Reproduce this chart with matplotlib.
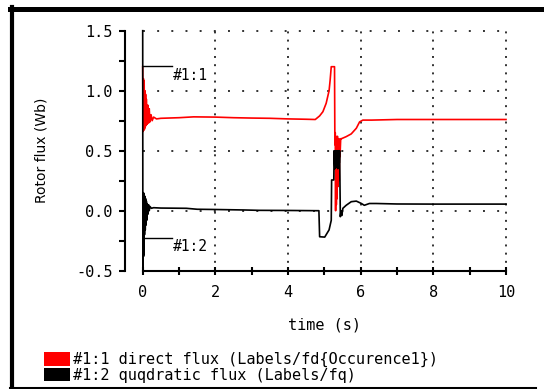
import matplotlib
matplotlib.use("Agg")
import matplotlib.pyplot as plt
from matplotlib.lines import Line2D
from matplotlib.patches import Patch
from matplotlib.ticker import MultipleLocator

# ---------------- data ----------------
t_direct = [0.00, 0.01, 0.02, 0.03, 0.04, 0.05, 0.06, 0.07, 0.08, 0.09,
            0.10, 0.12, 0.14, 0.16, 0.18, 0.20, 0.23, 0.26, 0.30, 0.38,
            0.50, 1.00, 1.40, 2.00, 2.50, 3.00, 3.50, 4.00, 4.50, 4.75,
            4.87, 4.96, 5.05, 5.13, 5.16, 5.19, 5.28, 5.29, 5.30, 5.31,
            5.32, 5.33, 5.34, 5.35, 5.36, 5.37, 5.38, 5.39, 5.40, 5.41,
            5.42, 5.43, 5.45, 5.47, 5.60, 5.74, 5.88, 5.97, 6.06, 6.30,
            7.00, 8.00, 9.00, 10.00]
flux_direct = [1.20, 0.66, 1.10, 0.67, 1.08, 0.68, 1.00, 0.70, 0.97, 0.71,
               0.93, 0.72, 0.88, 0.73, 0.85, 0.74, 0.80, 0.75, 0.78, 0.765,
               0.770, 0.775, 0.782, 0.780, 0.775, 0.772, 0.770, 0.765, 0.762, 0.760,
               0.79, 0.825, 0.895, 1.00, 1.09, 1.20, 1.20, 0.55, 0.65, 0.00,
               0.62, 0.05, 0.60, 0.10, 0.62, 0.20, 0.58, 0.30, 0.60, 0.25,
               0.58, 0.45, 0.60, 0.60, 0.617, 0.64, 0.687, 0.74, 0.755, 0.755,
               0.760, 0.760, 0.760, 0.760]

t_quad = [0.000, 0.005, 0.020, 0.025, 0.030, 0.035, 0.040, 0.050, 0.060, 0.070,
          0.080, 0.090, 0.100, 0.110, 0.120, 0.140, 0.160, 0.180, 0.200, 0.240,
          0.30, 0.50, 1.20, 1.50, 2.00, 2.80, 3.20, 4.00, 4.80, 4.85,
          4.87, 5.01, 5.05, 5.13, 5.19, 5.20, 5.26, 5.27, 5.29, 5.31,
          5.33, 5.35, 5.37, 5.39, 5.41, 5.42, 5.44, 5.46, 5.48, 5.51,
          5.60, 5.74, 5.88, 6.02, 6.10, 6.24, 6.43, 7.00, 8.00, 9.00,
          10.00]
flux_quad = [1.50, -0.50, 0.15, -0.38, 0.14, -0.36, 0.13, -0.20, 0.12, -0.16,
             0.10, -0.12, 0.08, -0.08, 0.06, -0.03, 0.05, 0.00, 0.035, 0.020,
             0.025, 0.022, 0.020, 0.012, 0.010, 0.006, 0.003, 0.002, 0.000, 0.000,
             -0.217, -0.220, -0.200, -0.160, -0.080, 0.256, 0.256, 0.50, 0.35, 0.50,
             0.36, 0.50, 0.35, 0.50, 0.40, 0.50, -0.05, 0.00, -0.04, 0.02,
             0.045, 0.075, 0.080, 0.060, 0.045, 0.060, 0.060, 0.056, 0.055, 0.055,
             0.055]

label_direct = "#1:1 direct flux (Labels/fd{Occurence1})"
label_quad = "#1:2 quqdratic flux (Labels/fq)"
xlabel = "time (s)"
ylabel = "Rotor flux (Wb)"
tag_direct = "#1:1"
tag_quad = "#1:2"
yticks = [-0.5, 0.0, 0.5, 1.0, 1.5]
ytick_labels = ['-0.5', '0.0', '0.5', '1.0', '1.5']
xticks = [0, 2, 4, 6, 8, 10]
xtick_labels = ['0', '2', '4', '6', '8', '10']

# ---------------- figure ----------------
plt.rcParams['font.family'] = ['DejaVu Sans']
plt.rcParams['lines.scale_dashes'] = False
MONO = 'DejaVu Sans Mono'

W, H = 544, 389
fig = plt.figure(figsize=(W / 100, H / 100), dpi=100)
fig.patch.set_facecolor('white')

ax = fig.add_axes([142.7 / W, 1 - 270.7 / H, (506 - 142.7) / W, (270.7 - 30.7) / H])
ax.set_xlim(0, 10)
ax.set_ylim(-0.5, 1.5)

# grid (dotted)
for gx in xticks[1:]:
    ax.plot([gx, gx], [-0.5, 1.5], color='#222222', lw=1.3,
            dashes=(1.4, 4.5), zorder=1, clip_on=False)
for gy in yticks[1:]:
    ax.plot([0, 10], [gy, gy], color='#222222', lw=1.3,
            dashes=(1.4, 8.8), zorder=1, clip_on=False)

ax.plot(t_direct, flux_direct, color='#ff0000', lw=1.2, zorder=3, clip_on=False)
ax.plot(t_quad, flux_quad, color='black', lw=1.2, zorder=4, clip_on=False)

# leader tags
ax.plot([0, 0.82], [1.206, 1.206], color='black', lw=1.0, zorder=5)
ax.text(0.82, 1.13, tag_direct, fontsize=10.5, family=MONO, ha='left', va='center', zorder=6)
ax.plot([0, 0.82], [-0.23, -0.23], color='black', lw=1.0, zorder=5)
ax.text(0.82, -0.30, tag_quad, fontsize=10.5, family=MONO, ha='left', va='center', zorder=6)

# spines
for s in ['top', 'right']:
    ax.spines[s].set_visible(False)
ax.spines['left'].set_position(('outward', 13))
ax.spines['left'].set_linewidth(1.5)
ax.spines['bottom'].set_linewidth(1.5)

ax.xaxis.set_minor_locator(MultipleLocator(1))
ax.yaxis.set_minor_locator(MultipleLocator(0.25))
ax.set_yticks(yticks)
ax.set_yticklabels(ytick_labels, family=MONO)
ax.set_xticks(xticks)
ax.set_xticklabels(xtick_labels, family=MONO)

ax.tick_params(axis='x', which='both', direction='inout', length=6, width=1.5,
               labelsize=11, pad=7)
ax.tick_params(axis='y', which='both', direction='out', length=4.5, width=1.5,
               labelsize=11, pad=4)

ax.set_xlabel(xlabel, fontsize=11, family=MONO, labelpad=13)
ax.set_ylabel(ylabel, fontsize=10, labelpad=20)

# legend below
handles = [Patch(facecolor='#ff0000', edgecolor='none', label=label_direct),
           Patch(facecolor='black', edgecolor='none', label=label_quad)]
fig.legend(handles=handles, loc='upper left', bbox_to_anchor=(44 / W, 1 - 352 / H),
           frameon=False, prop={'family': MONO, 'size': 11},
           handlelength=1.7, handleheight=1.0,
           handletextpad=0.2, labelspacing=0.02, borderpad=0.0, borderaxespad=0.0)

# outer frame
fig.add_artist(Line2D([10 / W, 1.0], [1 - 9 / H, 1 - 9 / H], color='black', lw=3.6,
                      transform=fig.transFigure))
fig.add_artist(Line2D([12 / W, 12 / W], [1 - 7 / H, 0.0], color='black', lw=3.0,
                      transform=fig.transFigure))
fig.add_artist(Line2D([10 / W, 535 / W], [1 - 387.5 / H, 1 - 387.5 / H], color='black',
                      lw=2.2, transform=fig.transFigure))

fig.savefig('out.png', dpi=100)
